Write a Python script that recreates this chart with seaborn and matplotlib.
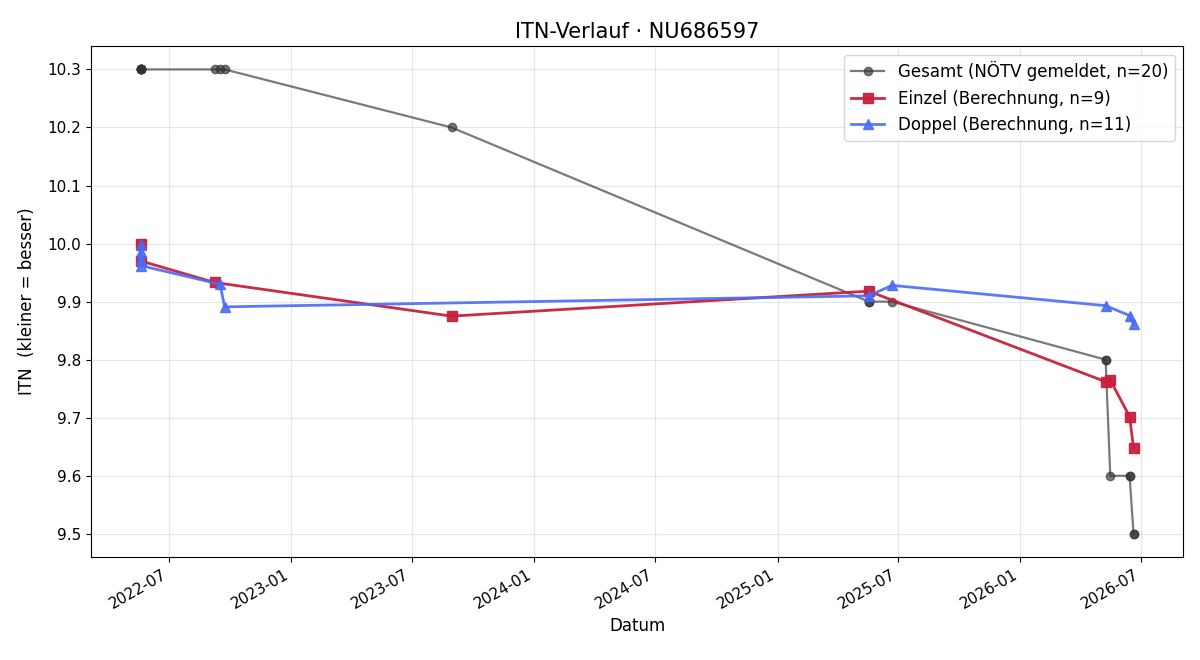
import pandas as pd
import matplotlib.pyplot as plt
import matplotlib.dates as mdates
import seaborn as sns

# --- Daten ---
gesamt_datum = ["2022-05-20"] * 6 + [
    "2022-09-08", "2022-09-16", "2022-09-23", "2023-08-30",
    "2025-05-18", "2025-05-18", "2025-06-22",
    "2026-05-09", "2026-05-09", "2026-05-16",
    "2026-06-14", "2026-06-14", "2026-06-20", "2026-06-20",
]
gesamt_itn = [10.3] * 6 + [
    10.3, 10.3, 10.3, 10.2,
    9.9, 9.9, 9.9,
    9.8, 9.8, 9.6,
    9.6, 9.6, 9.5, 9.5,
]

einzel_datum = [
    "2022-05-20", "2022-05-20", "2022-09-08", "2023-08-30", "2025-05-18",
    "2026-05-09", "2026-05-16", "2026-06-14", "2026-06-20",
]
einzel_itn = [10.0, 9.97, 9.933, 9.875, 9.918, 9.762, 9.765, 9.702, 9.648]

doppel_datum = [
    "2022-05-20", "2022-05-20", "2022-05-20", "2022-05-20",
    "2022-09-16", "2022-09-23", "2025-05-18", "2025-06-22",
    "2026-05-09", "2026-06-14", "2026-06-20",
]
doppel_itn = [9.997, 9.985, 9.972, 9.962, 9.93, 9.891, 9.91, 9.928, 9.893, 9.876, 9.861]

spieler = "NU686597"

df_g = pd.DataFrame({"Datum": pd.to_datetime(gesamt_datum), "ITN": gesamt_itn})
df_e = pd.DataFrame({"Datum": pd.to_datetime(einzel_datum), "ITN": einzel_itn})
df_d = pd.DataFrame({"Datum": pd.to_datetime(doppel_datum), "ITN": doppel_itn})

plt.rcParams['font.family'] = ['DejaVu Sans']

fig, ax = plt.subplots(figsize=(12, 6.6), dpi=100)

# Serien: (DataFrame, Farbe, Marker, Größe, Linienbreite, Alpha, Label)
serien = [
    (df_g, "#333333", "o", 6, 1.6, 0.65, f"Gesamt (NÖTV gemeldet, n={len(df_g)})"),
    (df_e, "#c8203c", "s", 7, 2.0, 0.95, f"Einzel (Berechnung, n={len(df_e)})"),
    (df_d, "#4a6cf7", "^", 7, 2.0, 0.9, f"Doppel (Berechnung, n={len(df_d)})"),
]
for df, farbe, marker, ms, lw, alpha, label in serien:
    sns.lineplot(data=df, x="Datum", y="ITN", ax=ax, estimator=None, sort=False,
                 color=farbe, alpha=alpha, marker=marker, markersize=ms, linewidth=lw,
                 markeredgecolor=farbe, markeredgewidth=1, label=label)

ax.set_title(f"ITN-Verlauf · {spieler}", fontsize=15)
ax.set_xlabel("Datum", fontsize=12)
ax.set_ylabel("ITN  (kleiner = besser)", fontsize=12, labelpad=8)
ax.grid(True, alpha=0.3)
ax.xaxis.set_major_locator(mdates.MonthLocator(bymonth=[1, 7]))
ax.xaxis.set_major_formatter(mdates.DateFormatter("%Y-%m"))
ax.tick_params(labelsize=11)
for lbl in ax.get_xticklabels():
    lbl.set_rotation(30)
    lbl.set_ha("right")
ax.legend(loc="upper right", fontsize=12)

fig.subplots_adjust(left=0.076, right=0.986, top=0.93, bottom=0.156)
fig.savefig("out.png", dpi=100)
